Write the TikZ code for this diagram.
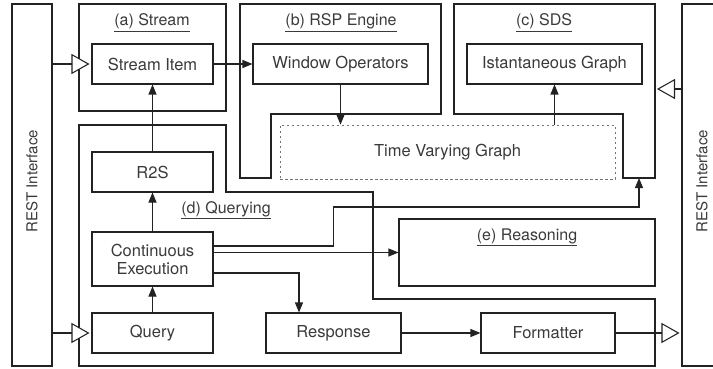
\documentclass[tikz,border=0pt]{standalone}
\usepackage{fontspec}
\setmainfont{TeX Gyre Heros}
\usetikzlibrary{arrows.meta,calc}
\definecolor{ink}{HTML}{222222}
\definecolor{txt}{HTML}{3A3A3A}
\begin{document}
\begin{tikzpicture}[x=1pt,y=-1pt,
  ln/.style={draw=ink,line width=1.05pt},
  box/.style={ln,rectangle,inner sep=0pt,font=\fontsize{16.5}{18}\selectfont,text=txt,align=center},
  hdr/.style={font=\fontsize{16}{18}\selectfont,text=txt,inner sep=0pt,anchor=base},
  side/.style={font=\fontsize{15}{18}\selectfont,text=txt,inner sep=0pt,anchor=center,rotate=90},
  arr/.style={ln,-{Triangle[length=10pt,width=8pt]}},
  harr/.style={ln,-{Triangle[open,length=18pt,width=20pt,fill=white]},shorten >=2pt},
]
\useasboundingbox (0,0) rectangle (713,369);

% containers
\draw[ln] (79,4) rectangle (226,111);
\draw[ln] (240,4) -- (441,4) -- (441,114) -- (271,114) -- (271,178) -- (240,178) -- cycle;
\draw[ln] (454,4) -- (655,4) -- (655,178) -- (623,178) -- (623,114) -- (454,114) -- cycle;
\draw[ln] (79,125) -- (226,125) -- (226,192) -- (373,192) -- (373,299) -- (655,299) -- (655,366) -- (79,366) -- cycle;

% headers
\node[hdr] (hA) at (152,26) {\underline{(a) Stream}};
\node[hdr] (hB) at (341,26) {\underline{(b) RSP Engine}};
\node[hdr] (hC) at (544,26) {\underline{(c) SDS}};
\node[hdr] (hD) at (226,213) {\underline{(d) Querying}};
\node[hdr] (hE) at (527,240) {\underline{(e) Reasoning}};

% REST interfaces
\node[box,minimum width=40pt,minimum height=362pt] (restL) at (32,185) {};
\node[box,minimum width=40pt,minimum height=362pt] (restR) at (702,185) {};
\node[side] (restLt) at (32,181) {REST Interface};
\node[side] (restRt) at (702,181) {REST Interface};

% boxes
\node[box,minimum width=121pt,minimum height=40pt] (si) at (152.5,64) {Stream Item};
\node[box,minimum width=175pt,minimum height=40pt] (wo) at (340.5,64) {Window Operators};
\node[box,minimum width=175pt,minimum height=40pt] (ig) at (554.5,64) {Istantaneous Graph};
\node[box,draw=black!55,line width=0.8pt,dash pattern=on 2.5pt off 2.5pt,minimum width=335pt,minimum height=54pt] (tvg) at (447.5,152) {Time Varying Graph};
\node[box,minimum width=121pt,minimum height=40pt] (r2s) at (152.5,172) {R2S};
\node[box,minimum width=121pt,minimum height=54pt] (ce) at (152.5,259) {Continuous\\Execution};
\node[box,minimum width=121pt,minimum height=40pt] (q) at (152.5,333) {Query};
\node[box,minimum width=135pt,minimum height=40pt] (resp) at (333.5,333) {Response};
\node[box,minimum width=134pt,minimum height=40pt] (fmt) at (548,333) {Formatter};
\node[box,minimum width=256pt,minimum height=67pt] (reas) at (527,252.5) {};

\coordinate (sdsB) at (639,178);
\coordinate (sdsR) at (655,89);

% connectors
\draw[arr] (si.east) -- (wo.west);
\draw[arr] (wo.south) -- (wo.south |- tvg.north);
\draw[arr] (ig.south |- tvg.north) -- (ig.south);
\draw[arr] (r2s.north) -- (si.south);
\draw[arr] (ce.north) -- (r2s.south);
\draw[arr] (q.north) -- (ce.south);
\draw[arr] ($(ce.east)+(0,-13)$) -- ++(120,0) -- ++(0,-39) -| (sdsB);
\draw[arr] (ce.east |- reas.west) -- (reas.west);
\draw[arr] ($(ce.east)+(0,14)$) -| ($(resp.north)+(-34.5,0)$);
\draw[arr] (resp.east) -- (fmt.west);
\draw[harr] (restL.east |- si.west) -- (si.west);
\draw[harr] (restL.east |- q.west) -- (q.west);
\draw[harr] (restR.west |- sdsR) -- (sdsR);
\draw[harr] (fmt.east) -- (restR.west |- fmt.east);
\end{tikzpicture}
\end{document}
